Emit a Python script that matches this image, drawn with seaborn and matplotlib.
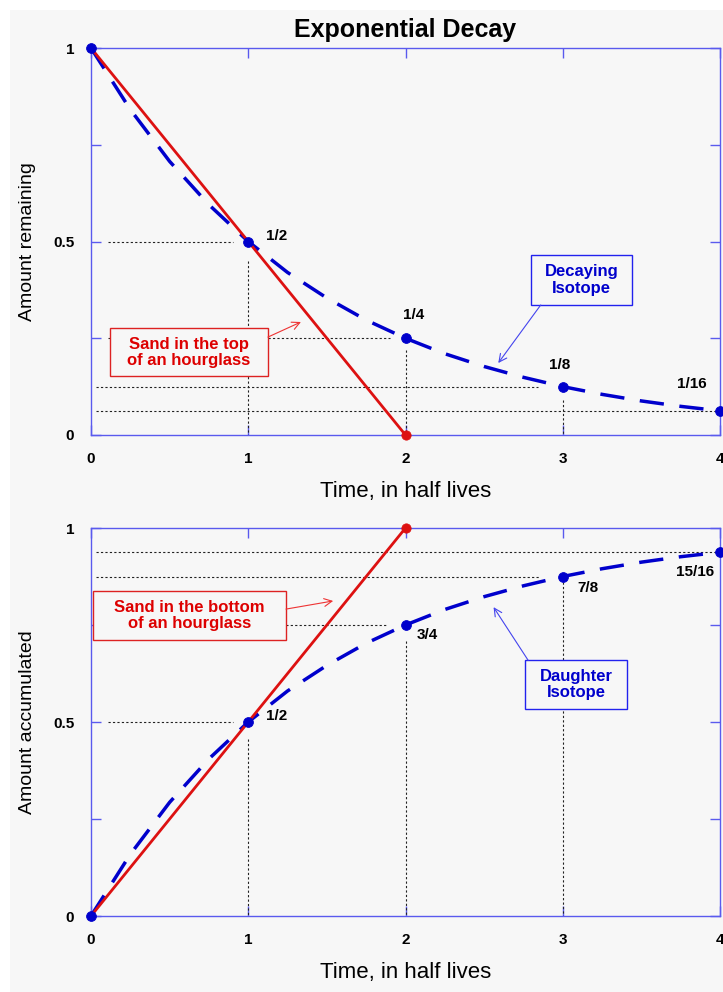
import matplotlib
matplotlib.use("Agg")
import matplotlib.pyplot as plt
import seaborn as sns
import pandas as pd
from matplotlib.patches import Rectangle

# ---------------- data ----------------
half_lives = [0, 1, 2, 3, 4]
remaining = [1.0, 0.5, 0.25, 0.125, 0.0625]
accumulated = [0.0, 0.5, 0.75, 0.875, 0.9375]
remaining_labels = ["1/2", "1/4", "1/8", "1/16"]
accumulated_labels = ["1/2", "3/4", "7/8", "15/16"]

curve_t = [0, 0.25, 0.5, 0.75, 1, 1.25, 1.5, 1.75, 2, 2.25, 2.5, 2.75, 3, 3.25, 3.5, 3.75, 4]
curve_remaining = [1.0, 0.841, 0.707, 0.595, 0.5, 0.420, 0.354, 0.297, 0.25, 0.210, 0.177,
                   0.149, 0.125, 0.105, 0.088, 0.074, 0.0625]
curve_accumulated = [0.0, 0.159, 0.293, 0.405, 0.5, 0.580, 0.646, 0.703, 0.75, 0.790, 0.823,
                     0.851, 0.875, 0.895, 0.912, 0.926, 0.9375]

sand_t = [0, 2]
sand_top = [1, 0]
sand_bottom = [0, 1]

x_ticks = [0, 1, 2, 3, 4]
y_ticks = [0, 0.5, 1]
y_ticks_minor = [0.25, 0.75]
y_tick_labels = ["0", "0.5", "1"]

# ---------------- style ----------------
sns.set_style("ticks")
plt.rcParams["font.family"] = ["Liberation Sans", "DejaVu Sans"]
plt.rcParams["text.color"] = "black"
plt.rcParams["axes.labelcolor"] = "black"
plt.rcParams["xtick.labelcolor"] = "black"
plt.rcParams["ytick.labelcolor"] = "black"

BG = "#f7f7f7"
SPINE = "#5a5aee"
BLUE = "#0000cc"
RED = "#dd1111"
DOT = "#222222"

fig = plt.figure(figsize=(7.23, 9.92), dpi=100, facecolor="white")
fig.patches.append(Rectangle((10 / 723, 0.0), 1 - 10 / 723, 1 - 10 / 992,
                             transform=fig.transFigure, facecolor=BG,
                             edgecolor="none", zorder=-10))

ax1 = fig.add_axes([91 / 723, 1 - 435 / 992, 629 / 723, 387 / 992])
ax2 = fig.add_axes([91 / 723, 1 - 916 / 992, 629 / 723, 388 / 992])


def style_axes(ax, ylabel):
    ax.set_facecolor(BG)
    ax.set_xlim(0, 4)
    ax.set_ylim(0, 1)
    for s in ax.spines.values():
        s.set_color(SPINE)
        s.set_linewidth(1.0)
        s.set_visible(True)
    ax.set_xticks(x_ticks)
    ax.set_xticklabels([str(v) for v in x_ticks])
    ax.set_yticks(y_ticks)
    ax.set_yticklabels(y_tick_labels)
    ax.set_yticks(y_ticks_minor, minor=True)
    ax.tick_params(which="both", direction="in", length=7, width=1, color=SPINE,
                   labelcolor="black", top=True, right=True, labelsize=11, pad=12)
    for lab in ax.get_xticklabels() + ax.get_yticklabels():
        lab.set_fontweight("bold")
    ax.set_xlabel("Time, in half lives", fontsize=16, labelpad=11, color="black")
    ax.set_ylabel(ylabel, fontsize=14, labelpad=12, color="black")


def guide(ax, xs, ys):
    ax.plot(xs, ys, color=DOT, lw=0.8, linestyle=(0, (2, 2)), zorder=1)


def boxed_note(ax, x0, x1, y0, y1, text, tcolor, ecolor, acolor, tail, head):
    ax.add_patch(Rectangle((x0, y0), x1 - x0, y1 - y0, facecolor=BG, edgecolor=ecolor,
                           lw=1.0, zorder=8))
    ax.text((x0 + x1) / 2, (y0 + y1) / 2, text, ha="center", va="center", color=tcolor,
            fontsize=12, fontweight="bold", linespacing=1.1, zorder=9)
    ax.annotate("", xy=head, xytext=tail, textcoords="data", zorder=9,
                arrowprops=dict(arrowstyle="->", color=acolor, lw=0.8,
                                shrinkA=0, shrinkB=0, mutation_scale=14))


# ---------------- top panel ----------------
style_axes(ax1, "Amount remaining")
ax1.set_title("Exponential Decay", fontsize=18, fontweight="bold", pad=8, color="black")

guide(ax1, [0.11, 0.90], [remaining[1]] * 2)
guide(ax1, [half_lives[1]] * 2, [0.45, 0])
guide(ax1, [0.11, 1.90], [remaining[2]] * 2)
guide(ax1, [half_lives[2]] * 2, [0.22, 0])
guide(ax1, [0.03, 2.84], [remaining[3]] * 2)
guide(ax1, [half_lives[3]] * 2, [0.09, 0])
guide(ax1, [0.03, 4.0], [remaining[4]] * 2)

df_top = pd.DataFrame({"t": curve_t, "y": curve_remaining})
sns.lineplot(data=df_top, x="t", y="y", ax=ax1, color=BLUE, lw=2.5,
             zorder=3).lines[-1].set_dashes((7, 4.5))
sns.lineplot(x=sand_t, y=sand_top, ax=ax1, color=RED, lw=2.0, zorder=4)
sns.scatterplot(x=half_lives, y=remaining, ax=ax1, color=BLUE, s=50,
                edgecolor=BLUE, zorder=5, clip_on=False)
sns.scatterplot(x=[sand_t[1]], y=[sand_top[1]], ax=ax1, color=RED, s=45,
                edgecolor=RED, zorder=6, clip_on=False)

top_label_pos = [(1.11, 0.515, "left"), (2.05, 0.31, "center"),
                 (2.98, 0.181, "center"), (3.82, 0.132, "center")]
for (x, y, ha), lab in zip(top_label_pos, remaining_labels):
    ax1.text(x, y, lab, fontsize=11, fontweight="bold", ha=ha, va="center",
             color="black", zorder=7)

boxed_note(ax1, 0.12, 1.125, 0.152, 0.276, "Sand in the top\nof an hourglass",
           "#dd0000", "#dd2222", "#ee3333", (1.125, 0.253), (1.335, 0.292))
boxed_note(ax1, 2.797, 3.44, 0.336, 0.465, "Decaying\nIsotope",
           BLUE, "#2222ee", "#4444ee", (2.86, 0.336), (2.59, 0.186))

# ---------------- bottom panel ----------------
style_axes(ax2, "Amount accumulated")

guide(ax2, [0.03, 4.0], [accumulated[4]] * 2)
guide(ax2, [0.03, 2.855], [accumulated[3]] * 2)
guide(ax2, [half_lives[3]] * 2, [0.86, 0])
guide(ax2, [0.11, 1.89], [accumulated[2]] * 2)
guide(ax2, [half_lives[2]] * 2, [0.71, 0])
guide(ax2, [0.11, 0.90], [accumulated[1]] * 2)
guide(ax2, [half_lives[1]] * 2, [0.455, 0])

df_bot = pd.DataFrame({"t": curve_t, "y": curve_accumulated})
sns.lineplot(data=df_bot, x="t", y="y", ax=ax2, color=BLUE, lw=2.5,
             zorder=3).lines[-1].set_dashes((7, 4.5))
sns.lineplot(x=sand_t, y=sand_bottom, ax=ax2, color=RED, lw=2.0, zorder=4)
sns.scatterplot(x=half_lives, y=accumulated, ax=ax2, color=BLUE, s=50,
                edgecolor=BLUE, zorder=5, clip_on=False)
sns.scatterplot(x=[sand_t[1]], y=[sand_bottom[1]], ax=ax2, color=RED, s=45,
                edgecolor=RED, zorder=6, clip_on=False)

bot_label_pos = [(1.11, 0.515, "left"), (2.14, 0.724, "center"),
                 (3.16, 0.845, "center"), (3.84, 0.887, "center")]
for (x, y, ha), lab in zip(bot_label_pos, accumulated_labels):
    ax2.text(x, y, lab, fontsize=11, fontweight="bold", ha=ha, va="center",
             color="black", zorder=7)

boxed_note(ax2, 0.013, 1.24, 0.711, 0.838, "Sand in the bottom\nof an hourglass",
           "#dd0000", "#dd2222", "#ee3333", (1.24, 0.791), (1.54, 0.812))
boxed_note(ax2, 2.76, 3.41, 0.533, 0.659, "Daughter\nIsotope",
           BLUE, "#2222ee", "#4444ee", (2.78, 0.659), (2.56, 0.796))

fig.savefig("out.png", dpi=100, facecolor="white")
